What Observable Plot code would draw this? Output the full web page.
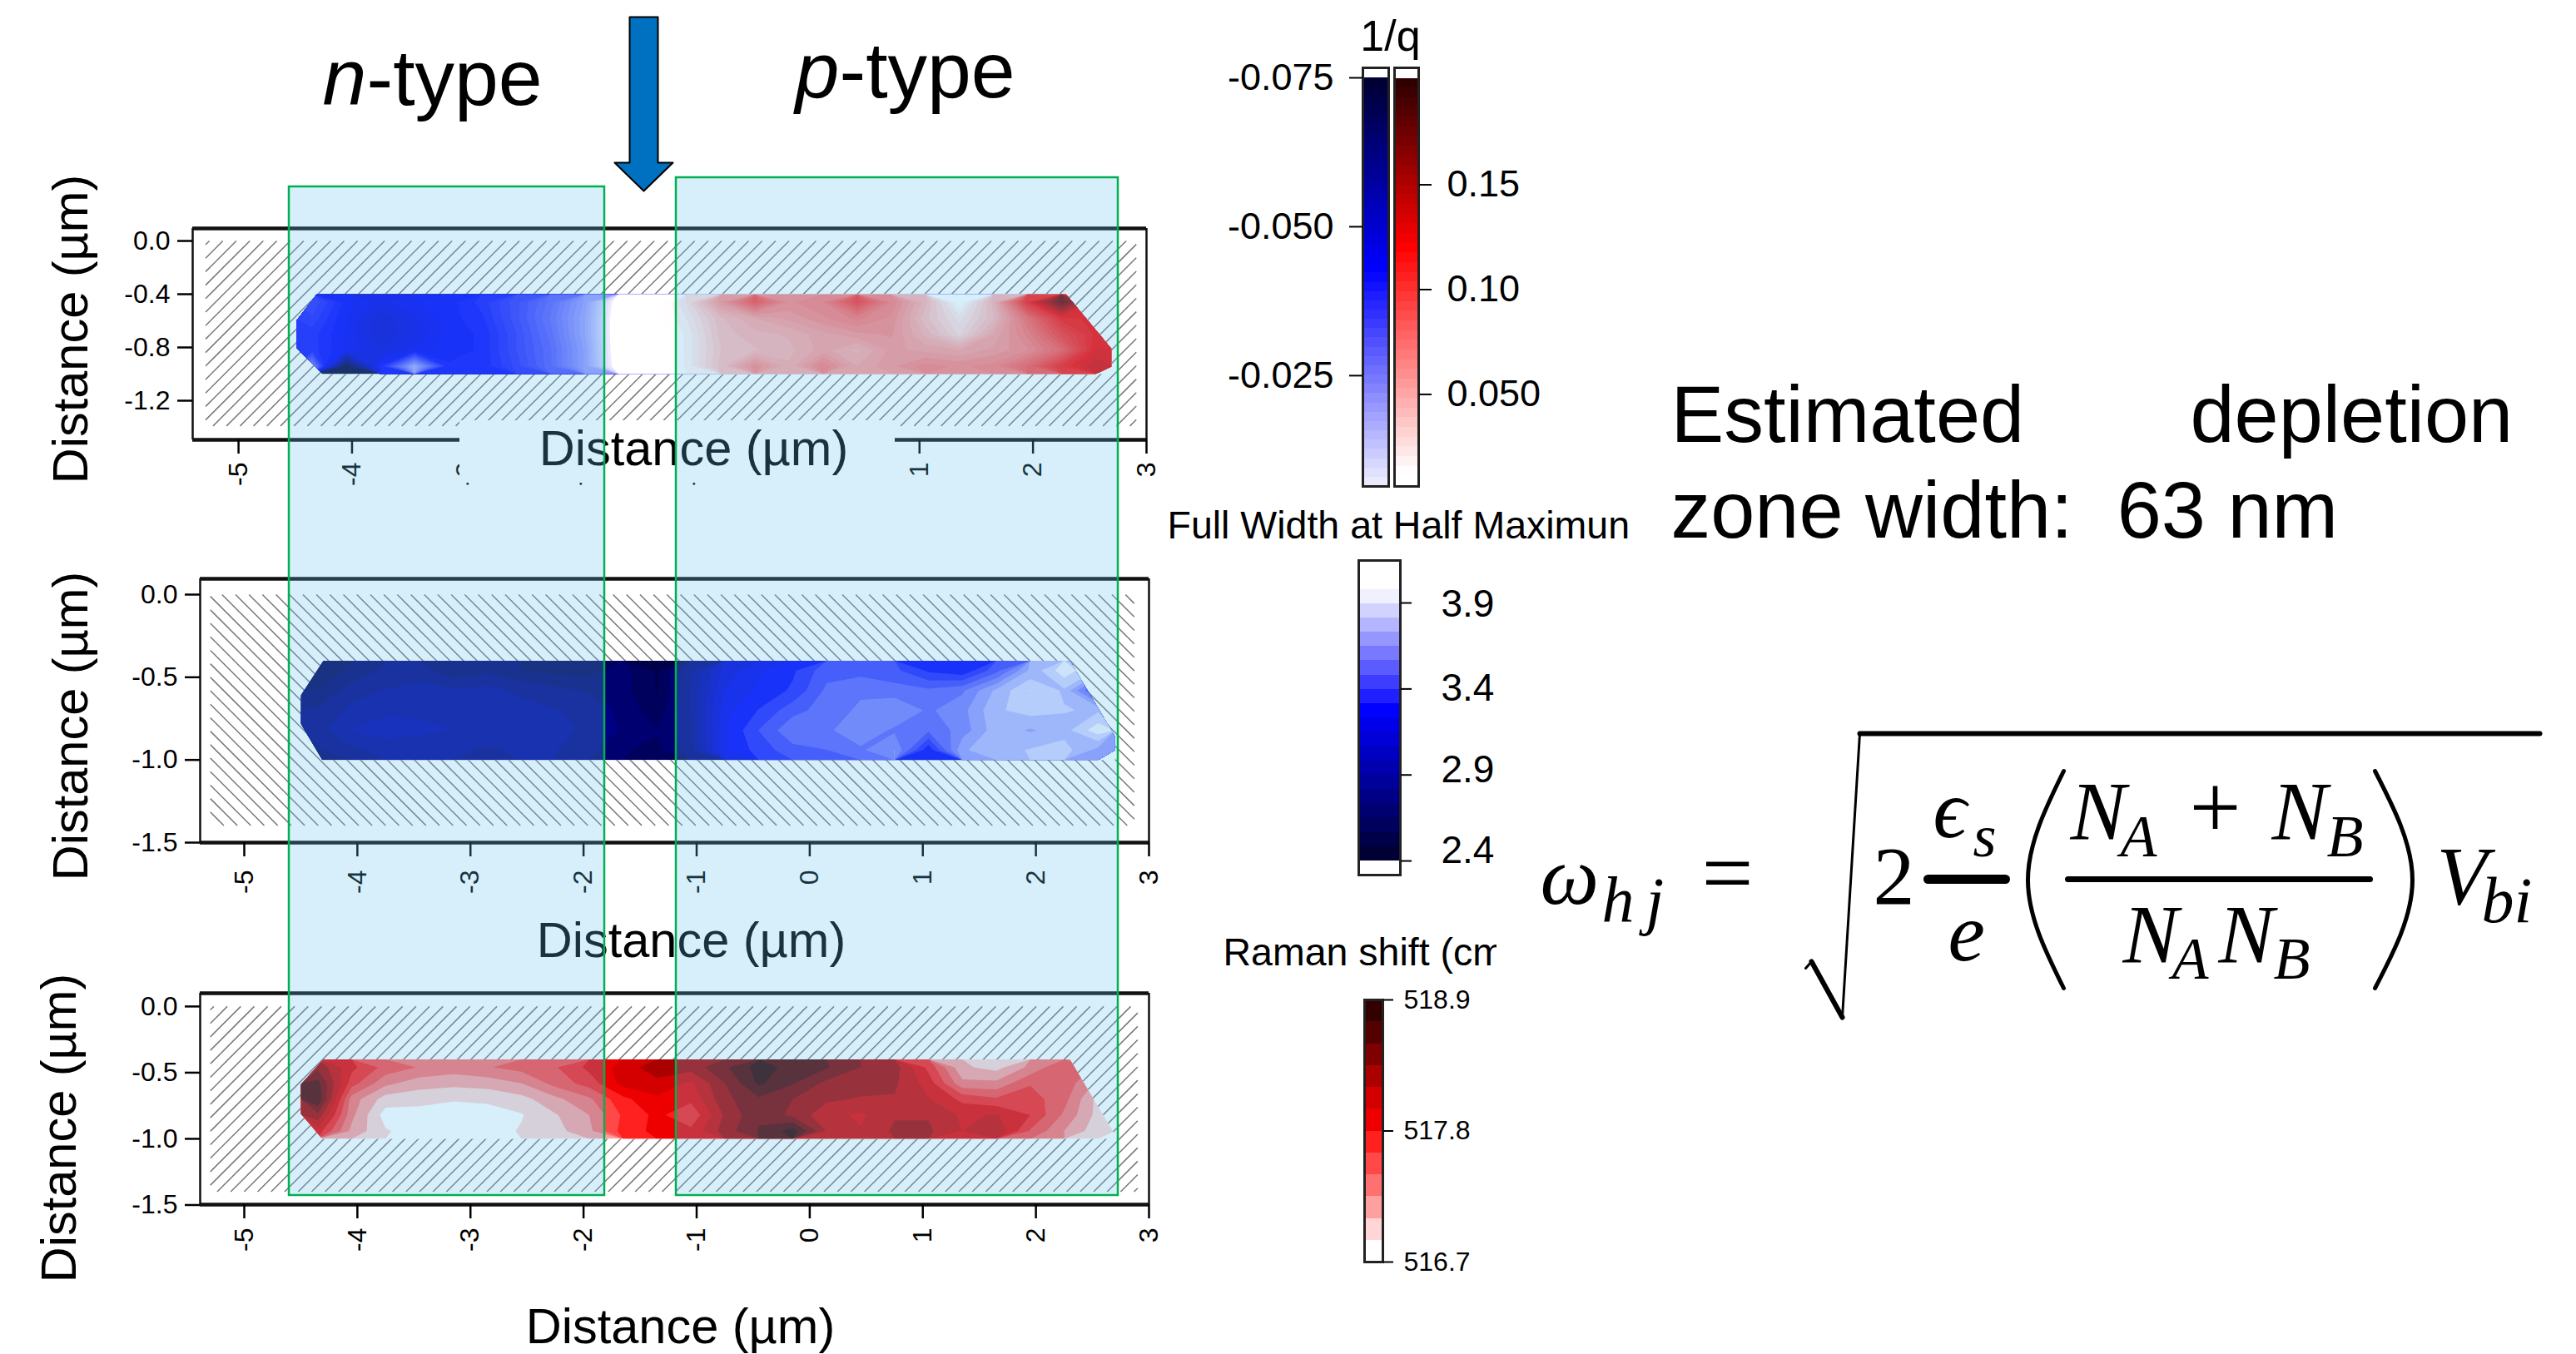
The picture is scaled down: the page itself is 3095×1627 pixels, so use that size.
<!DOCTYPE html>
<html>
<head>
<meta charset="utf-8">
<script src="https://cdn.jsdelivr.net/npm/d3@7"></script>
<script src="https://cdn.jsdelivr.net/npm/@observablehq/plot@0.6"></script>
<style>
html,body{margin:0;padding:0;background:#fff;}
#stage{position:relative;width:3095px;height:1627px;overflow:hidden;background:#fff;}
#stage>svg{position:absolute;max-width:none;}
</style>
</head>
<body>
<div id="stage"></div>
<script>
// ---------- data ----------
const gridColumns = 24, gridRows = 5;
const mapX = [-4.5, 2.7], mapY = [-0.4, -1.0];
const xTicks = [-5, -4, -3, -2, -1, 0, 1, 2, 3];
const yTicksFine = [0, -0.4, -0.8, -1.2];
const yTicksCoarse = [0, -0.5, -1, -1.5];

// 1/q in units of 1e-3
const inverseQ = [
  -36,-43,-46,-44,-43,-40,-35,-29,-20,-3,3,25,60,92,65,70,100,70,45,8,45,112,175,120,
  -38,-44,-50,-46,-43,-41,-35,-28,-19,-2,6,20,42,52,58,65,72,65,40,22,42,80,115,118,
  -40,-44,-50,-47,-43,-42,-36,-29,-19,-2,5,16,40,46,48,55,60,62,46,28,52,72,100,118,
  -40,-44,-48,-45,-43,-42,-36,-30,-20,-2,5,16,38,42,46,54,46,58,55,52,58,65,85,122,
  -24,-72,-42,-18,-42,-42,-37,-30,-20,-3,4,16,40,65,48,70,52,60,68,65,68,85,112,130
];
const fwhm = [
  2.62,2.66,2.75,2.78,2.65,2.72,2.65,2.62,2.62,2.68,2.56,2.80,3.10,3.22,3.30,3.45,3.45,3.42,3.30,3.25,3.45,3.75,3.95,3.80,
  2.65,2.78,2.82,2.84,2.84,2.84,2.80,2.76,2.72,2.68,2.56,2.82,3.15,3.25,3.33,3.50,3.55,3.52,3.50,3.55,3.75,3.90,3.80,3.40,
  2.75,2.84,2.88,2.88,2.88,2.86,2.84,2.82,2.80,2.70,2.60,2.82,3.20,3.32,3.45,3.52,3.58,3.64,3.55,3.62,3.80,3.85,3.82,3.80,
  2.78,2.90,2.95,2.92,2.90,2.88,2.88,2.84,2.80,2.72,2.66,2.80,3.22,3.40,3.55,3.55,3.62,3.55,3.50,3.60,3.78,3.72,3.78,3.95,
  2.72,2.80,2.84,2.82,2.84,2.80,2.84,2.82,2.76,2.66,2.62,2.78,3.22,3.35,3.45,3.48,3.55,3.65,3.25,3.72,3.78,3.82,3.85,3.70
];
const ramanShift = [
  518.3,517.85,517.55,517.42,517.35,517.42,517.5,517.6,517.85,518.05,518.3,518.25,518.5,518.8,518.65,518.55,518.35,518.25,517.75,517.1,517.0,517.3,517.6,517.4,
  518.6,517.7,517.3,517.15,517.12,517.15,517.25,517.5,517.7,518.05,518.1,517.95,518.35,518.75,518.55,518.3,518.25,518.2,517.9,517.3,517.3,517.6,517.55,517.2,
  518.7,517.35,516.98,516.95,516.9,516.92,517.0,517.2,517.4,517.75,517.95,517.85,518.3,518.5,518.35,518.2,518.15,518.15,518.0,517.75,517.65,517.7,517.5,517.0,
  518.3,517.3,516.8,516.8,516.78,516.8,516.87,517.05,517.25,517.65,517.85,517.65,518.2,518.5,518.3,518.05,517.95,518.15,518.15,517.95,518.0,517.8,517.4,517.0,
  517.9,517.2,516.9,516.8,516.75,516.8,516.9,517.0,517.2,517.7,517.85,517.85,518.25,518.55,518.8,518.15,518.0,518.2,518.2,517.98,518.15,517.6,517.25,516.95
];
// outlines of the measured band, [distance, depth]
const outline1 = [[-4.31,-0.4],[-4.49,-0.6],[-4.49,-0.8],[-4.26,-1],[2.69,-1],[2.69,-0.81],[2.29,-0.4]];
const outline2 = [[-4.30,-0.4],[-4.50,-0.61],[-4.50,-0.78],[-4.31,-1],[2.70,-1],[2.70,-0.86],[2.30,-0.4]];
const outline3 = [[-4.30,-0.4],[-4.50,-0.59],[-4.50,-0.81],[-4.31,-1],[2.72,-1],[2.30,-0.4]];

const qStops = [[-0.075,"#00002f"],[-0.0427,"#0000ff"],[-0.004,"#ffffff"],[0.012,"#ffffff"],[0.119,"#ff0000"],[0.2,"#2a0000"]];
const fwhmStops = [[2.4,"#00002a"],[3.27,"#0000ff"],[3.98,"#ffffff"]];
const ramanColors = ["#ffffff","#ffd5d5","#ffa0a0","#ff7070","#ff4848","#ff2020","#ee0000","#d40000","#aa0000","#7f0000","#550000","#330000"];

const FONT = "'Liberation Sans', Arial, sans-serif";
const SERIF = "'Liberation Serif', 'DejaVu Serif', serif";
const stage = document.getElementById("stage");

// ---------- colour levels ----------
function levels(edges, colorAt) {
  const colors = edges.map((e, i) => {
    const next = i + 1 < edges.length ? edges[i + 1] : e;
    return colorAt((e + next) / 2);
  });
  return {T: edges, C: colors, scale: {type: "threshold", domain: edges.slice(1), range: colors}};
}
function ramp(stops) {
  return d3.scaleLinear().domain(stops.map(d => d[0])).range(stops.map(d => d[1])).interpolate(d3.interpolateRgb).clamp(true);
}
const qEdges = [...d3.range(44).map(i => -0.075 + i * 0.0686 / 44), -0.0064, ...d3.range(1, 43).map(i => 0.0057 + i * 0.1943 / 42)];
const qLevels = levels(qEdges, ramp(qStops));
const fwhmEdges = d3.range(20).map(i => 2.4 + i * 1.58 / 19);
const fwhmLevels = levels(fwhmEdges, ramp(fwhmStops));
const ramanEdges = d3.range(12).map(i => 516.7 + i * 2.2 / 12);
const ramanLevels = {T: ramanEdges, C: ramanColors, scale: {type: "threshold", domain: ramanEdges.slice(1), range: ramanColors}};

// ---------- helpers ----------
function hatch(xl, xr, yb, yt, dx, dir, slope) {
  const r = dir * slope, segs = [];
  const reach = (yt - yb) * slope;
  for (let c = xl - reach; c < xr + reach; c += dx) {
    const yAt = x => yt + (x - c) / r;
    const a = yAt(xl), b = yAt(xr);
    const lo = Math.max(yb, Math.min(a, b)), hi = Math.min(yt, Math.max(a, b));
    if (hi > lo) segs.push({x1: c + r * (lo - yt), y1: lo, x2: c + r * (hi - yt), y2: hi});
  }
  return segs;
}
let clipId = 0;
function clipToOutline(outline) {
  return function (index, scales, values, dimensions, context, next) {
    const g = next(index, scales, values, dimensions, context);
    const id = "band-clip-" + (++clipId);
    const doc = context.document;
    const clip = doc.createElementNS("http://www.w3.org/2000/svg", "clipPath");
    clip.setAttribute("id", id);
    const poly = doc.createElementNS("http://www.w3.org/2000/svg", "polygon");
    poly.setAttribute("points", outline.map(([x, y]) => `${scales.x(x)},${scales.y(y)}`).join(" "));
    clip.appendChild(poly);
    const wrap = doc.createElementNS("http://www.w3.org/2000/svg", "g");
    wrap.appendChild(clip);
    g.setAttribute("clip-path", `url(#${id})`);
    wrap.appendChild(g);
    return wrap;
  };
}
function panel(o) {
  const W = 1500, pad = 10, below = 130;
  const [xl, xr] = o.hatchX;
  const pxX = (o.right - o.left) / (o.xDomain[1] - o.xDomain[0]);
  const pxY = (o.bottom - o.top) / (o.yDomain[1] - o.yDomain[0]);
  const svg = Plot.plot({
    width: W, height: o.bottom - o.top + pad + below,
    marginLeft: o.left, marginRight: W - o.right, marginTop: pad, marginBottom: below,
    style: {background: "transparent", fontFamily: FONT, color: "#000"},
    x: {domain: o.xDomain}, y: {domain: o.yDomain}, color: o.levels.scale,
    marks: [
      Plot.link(hatch(xl, xr, o.hatchY, 0, 16.2 / pxX, o.dir, pxY / pxX), {x1: "x1", y1: "y1", x2: "x2", y2: "y2", stroke: "#777", strokeWidth: 1.5}),
      Plot.line(o.outline, {x: d => d[0], y: d => d[1], fill: "white", stroke: "none"}),
      Plot.contour(o.values, {
        width: gridColumns, height: gridRows,
        x1: mapX[0], x2: mapX[1], y1: mapY[0], y2: mapY[1],
        fill: Plot.identity, thresholds: o.levels.T, stroke: "none", render: clipToOutline(o.outline)
      }),
      Plot.ruleY(o.yDomain, {stroke: "#111", strokeWidth: 4.5}),
      Plot.ruleX(o.xDomain, {stroke: "#111", strokeWidth: 2.5}),
      Plot.axisY({ticks: o.yTicks, tickFormat: d => d.toFixed(1), tickSize: 18, tickPadding: 9, fontSize: 32, strokeWidth: 2.5, label: null, stroke: "#000"}),
      Plot.axisX({ticks: xTicks, tickFormat: d => String(d), tickRotate: -90, tickSize: 17, tickPadding: o.xPad, fontSize: 32, strokeWidth: 2.5, label: null, stroke: "#000"})
    ]
  });
  svg.style.left = "0px";
  svg.style.top = (o.top - pad) + "px";
  stage.appendChild(svg);
}
function legendBar(o) {
  const W = 500, pad = 40, barLeft = 250;
  const tickMarks = o.labelAt
    ? [
        Plot.axisY({anchor: o.anchor, ticks: o.ticks, tickFormat: () => "", tickSize: o.tickSize, strokeWidth: 2, label: null, stroke: "#000"}),
        Plot.text(o.labelAt, {x: 1, y: "at", text: "text", textAnchor: "start", dx: o.tickSize + o.tickPadding, fontSize: o.fontSize, fill: "#000"})
      ]
    : [Plot.axisY({anchor: o.anchor, ticks: o.ticks, tickFormat: o.format, tickSize: o.tickSize, tickPadding: o.tickPadding, fontSize: o.fontSize, dy: o.labelDy || 0, strokeWidth: 2, label: null, stroke: "#000"})];
  const svg = Plot.plot({
    width: W, height: o.bottom - o.top + 2 * pad,
    marginLeft: barLeft, marginRight: W - barLeft - (o.right - o.left), marginTop: pad, marginBottom: pad,
    style: {background: "transparent", fontFamily: FONT, color: "#000"},
    x: {domain: [0, 1], axis: null}, y: {domain: o.yDomain}, color: o.levels.scale,
    marks: [
      Plot.rect(o.bands, {x1: 0, x2: 1, y1: "lo", y2: "hi", fill: "lo", shapeRendering: "crispEdges"}),
      Plot.frame({stroke: "#222", strokeWidth: 3}),
      ...tickMarks
    ]
  });
  svg.style.left = (o.left - barLeft) + "px";
  svg.style.top = (o.top - pad) + "px";
  stage.appendChild(svg);
}
const bandsOf = (lv, lo, hi) => lv.T.map((e, i) => ({lo: e, hi: i + 1 < lv.T.length ? lv.T[i + 1] : hi})).filter(d => d.lo >= lo && d.hi <= hi && d.hi > d.lo);

// ---------- heat-map panels ----------
panel({
  top: 274, bottom: 528, left: 231, right: 1377,
  xDomain: [-5.404, 3.0], yDomain: [-1.494, 0.094], yTicks: yTicksFine, xPad: 10,
  hatchX: [-5.29, 2.91], hatchY: -1.39, dir: 1, outline: outline1,
  values: inverseQ.map(d => d / 1000), levels: qLevels
});
panel({
  top: 695, bottom: 1012, left: 240, right: 1380,
  xDomain: [-5.39, 3.0], yDomain: [-1.5, 0.0955], yTicks: yTicksCoarse, xPad: 16,
  hatchX: [-5.30, 2.87], hatchY: -1.397, dir: -1, outline: outline2,
  values: fwhm, levels: fwhmLevels
});
panel({
  top: 1193, bottom: 1447, left: 240, right: 1380,
  xDomain: [-5.39, 3.0], yDomain: [-1.497, 0.10], yTicks: yTicksCoarse, xPad: 11,
  hatchX: [-5.30, 2.90], hatchY: -1.40, dir: 1, outline: outline3,
  values: ramanShift, levels: ramanLevels
});

// ---------- colour bars ----------
const hy = s => s.replace("\u2212", "-");
legendBar({
  left: 1637, right: 1668, top: 81, bottom: 584, yDomain: [-0.0064, -0.07668], levels: qLevels,
  bands: bandsOf(qLevels, -0.075, -0.0064), anchor: "left", ticks: [-0.075, -0.05, -0.025],
  format: d => hy(d3.format(".3f")(d)), tickSize: 16, tickPadding: 19, fontSize: 45
});
legendBar({
  left: 1675, right: 1704, top: 81, bottom: 584, yDomain: [0.0053, 0.205], levels: qLevels,
  bands: bandsOf(qLevels, 0.0057, 0.2), anchor: "right", ticks: [0.05, 0.10, 0.15], labelDy: 2,
  format: d => d === 0.05 ? "0.050" : d3.format(".2f")(d), tickSize: 15, tickPadding: 19, fontSize: 45
});
legendBar({
  left: 1632, right: 1682, top: 673, bottom: 1051, yDomain: [2.318, 4.147], levels: fwhmLevels,
  bands: bandsOf(fwhmLevels, 2.4, 3.98), anchor: "right", ticks: [2.4, 2.9, 3.4, 3.9],
  labelAt: [{at: 2.46, text: "2.4"}, {at: 2.93, text: "2.9"}, {at: 3.405, text: "3.4"}, {at: 3.89, text: "3.9"}],
  tickSize: 13, tickPadding: 36, fontSize: 46
});
legendBar({
  left: 1639, right: 1661, top: 1201, bottom: 1516, yDomain: [516.7, 518.9], levels: ramanLevels,
  bands: bandsOf(ramanLevels, 516.7, 518.9), anchor: "right", ticks: [516.7, 517.8, 518.9],
  format: d => d.toFixed(1), tickSize: 12, tickPadding: 13, fontSize: 32
});

// ---------- annotations, page-level overlay ----------
const sans = (text, x, y, size, extra = {}) => ({text, x, y, size, rotate: 0, anchor: "start", style: "normal", family: FONT, ...extra});
const coverPatch = [{x1: 552, x2: 1075, y1: 505, y2: 580}];
const axisTitles = [
  sans("Distance (\u00b5m)", 833, 558, 59.5, {anchor: "middle"}),
  sans("Distance (\u00b5m)", 830, 1149, 59.5, {anchor: "middle"}),
  sans("Distance (\u00b5m)", 817, 1613, 59.5, {anchor: "middle"}),
  sans("Distance (\u00b5m)", 104, 395, 59.5, {anchor: "middle", rotate: -90}),
  sans("Distance (\u00b5m)", 104, 872, 59.5, {anchor: "middle", rotate: -90}),
  sans("Distance (\u00b5m)", 90, 1355, 59.5, {anchor: "middle", rotate: -90})
];
const zones = [
  {x1: 347, x2: 726, y1: 224, y2: 1436},
  {x1: 812, x2: 1343, y1: 213, y2: 1436}
];
const arrowShape = [[756, 20], [790, 20], [790, 195], [808, 195], [773, 229], [738, 195], [756, 195], [756, 20]];
const headings = [
  sans("n", 387, 125, 95, {style: "italic"}),
  sans("-type", 440, 125, 95),
  sans("p", 955, 116, 95, {style: "italic"}),
  sans("-type", 1008, 116, 95),
  sans("1/q", 1670, 60, 52, {anchor: "middle"}),
  sans("Full Width at Half Maximun", 1402, 646, 46.5),
  sans("Raman shift (cm", 1469, 1159, 46.5),
  sans("Estimated", 2007, 530, 95.5),
  sans("depletion", 2631, 530, 95.5),
  sans("zone width:\u00a0 63 nm", 2007, 645, 95.5)
];
const titleMask = [{x1: 1798, x2: 1860, y1: 1110, y2: 1180}];
const ital = (text, x, y, size) => ({text, x, y, size, rotate: 0, anchor: "start", style: "italic", family: SERIF});
const rom = (text, x, y, size) => ({text, x, y, size, rotate: 0, anchor: "start", style: "normal", family: SERIF});
const formulaGlyphs = [
  ital("\u03c9", 1850, 1085, 100), ital("h", 1924, 1107, 78), ital("j", 1977, 1107, 78),
  rom("=", 2044, 1085, 110), rom("2", 2250, 1085, 100),
  ital("\u03f5", 2322, 1005, 100), ital("s", 2370, 1028, 72), ital("e", 2340, 1153, 100),
  ital("N", 2487, 1007, 100), ital("A", 2547, 1028, 72), rom("+", 2630, 1006, 110),
  ital("N", 2729, 1007, 100), ital("B", 2795, 1028, 72),
  ital("N", 2550, 1155, 100), ital("A", 2609, 1175, 72), ital("N", 2665, 1155, 100), ital("B", 2731, 1175, 72),
  ital("V", 2927, 1085, 100), ital("b", 2981, 1107, 78), ital("i", 3020, 1107, 78)
];
const formulaStrokes = [
  {w: 3, c: "linear", p: [[2169, 1163], [2176, 1155]]},
  {w: 6, c: "linear", p: [[2176, 1155], [2213, 1222]]},
  {w: 3, c: "linear", p: [[2213, 1222], [2234, 881]]},
  {w: 6, c: "linear", p: [[2234, 881], [3051, 881]]},
  {w: 11, c: "linear", p: [[2316, 1056], [2409, 1056]]},
  {w: 7, c: "linear", p: [[2484, 1056], [2847, 1056]]},
  {w: 5, c: "natural", p: [[2479, 926], [2436, 1057], [2479, 1187]]},
  {w: 5, c: "natural", p: [[2853, 926], [2898, 1057], [2853, 1187]]}
];
const textGroup = (data) => ["start", "middle"].flatMap(anchor => ["normal", "italic"].flatMap(style => [FONT, SERIF].map(family => {
  const rows = data.filter(d => d.anchor === anchor && d.style === style && d.family === family);
  return rows.length ? Plot.text(rows, {x: "x", y: "y", text: "text", fontSize: d => d.size, rotate: d => d.rotate, textAnchor: anchor, fontStyle: style, fontFamily: family, lineAnchor: "bottom", fill: "#000"}) : null;
}))).filter(Boolean);

const overlay = Plot.plot({
  width: 3095, height: 1627, margin: 0,
  style: {background: "transparent", fontFamily: FONT},
  x: {type: "identity", axis: null}, y: {type: "identity", axis: null},
  marks: [
    Plot.rect(coverPatch, {x1: "x1", x2: "x2", y1: "y1", y2: "y2", fill: "white"}),
    ...textGroup(axisTitles),
    Plot.rect(zones, {x1: "x1", x2: "x2", y1: "y1", y2: "y2", fill: "#60C0EC", fillOpacity: 0.26, stroke: "#00B050", strokeWidth: 2.5}),
    Plot.line(arrowShape, {x: d => d[0], y: d => d[1], fill: "#0070C0", stroke: "#000", strokeWidth: 2}),
    ...textGroup(headings),
    Plot.rect(titleMask, {x1: "x1", x2: "x2", y1: "y1", y2: "y2", fill: "white"}),
    ...textGroup(formulaGlyphs),
    ...formulaStrokes.map(s => Plot.line(s.p, {x: d => d[0], y: d => d[1], stroke: "#000", strokeWidth: s.w, curve: s.c}))
  ]
});
overlay.style.left = "0px";
overlay.style.top = "0px";
stage.appendChild(overlay);
</script>
</body>
</html>
